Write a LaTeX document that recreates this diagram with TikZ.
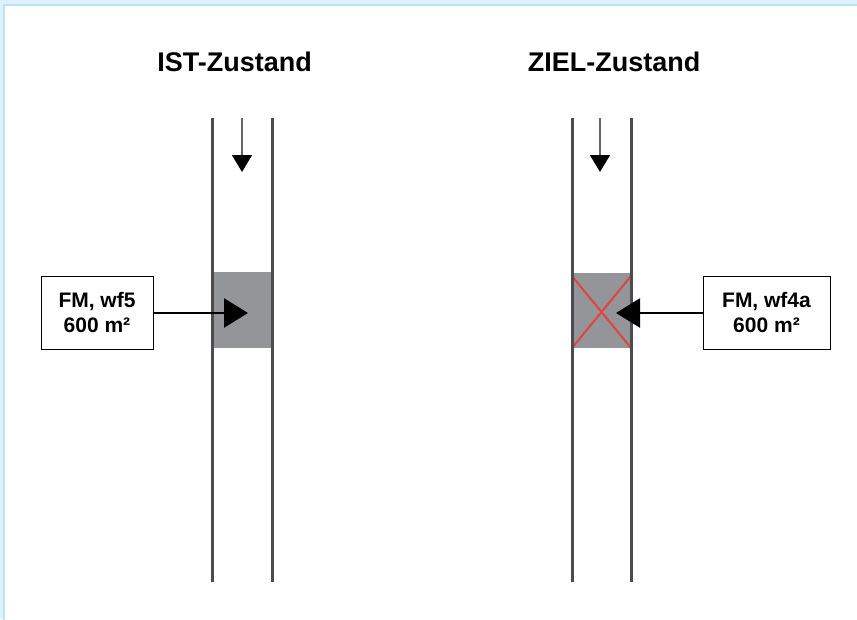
\documentclass[tikz,border=0pt]{standalone}
\usepackage{fontspec}
\setmainfont{Liberation Sans}
\usetikzlibrary{arrows.meta}
\definecolor{bgblue}{HTML}{DFF2FB}
\definecolor{edgeblue}{HTML}{B9E3F6}
\definecolor{pipegray}{HTML}{4D4B4D}
\definecolor{fillgray}{HTML}{939598}
\definecolor{xred}{HTML}{E8413C}
\begin{document}
\begin{tikzpicture}[x=1pt,y=-1pt,
  pipe/.style={draw=pipegray,line width=3pt},
  title/.style={font=\bfseries\fontsize{27}{32}\selectfont,anchor=base},
  lbl/.style={draw=black,line width=1pt,fill=white,align=center,font=\bfseries\fontsize{21}{25}\selectfont,inner sep=0pt,minimum width=112pt,minimum height=73pt},
  flow/.style={draw=gray!80!black,line width=1.5pt,-{Triangle[length=17pt,width=20pt,color=black]}},
  point/.style={draw=black,line width=2.5pt,-{Triangle[length=24pt,width=29pt]}},
  cross/.style={draw=xred,line width=2pt}]
\useasboundingbox (0,0) rectangle (857,619);
\fill[bgblue] (0,0) rectangle (857,619);
\fill[white] (5,6) rectangle (860,622);
\draw[edgeblue,line width=2pt] (4,630) -- (4,5) -- (865,5);
% titles
\node[title] (t1) at (234.5,71) {IST-Zustand};
\node[title] (t2) at (614,71) {ZIEL-Zustand};
% gray blocks
\fill[fillgray] (212,272) rectangle (272,348);
\fill[fillgray] (572,273) rectangle (631,348);
% red cross
\draw[cross] (572,276) -- (631,348);
\draw[cross] (631,276) -- (572,348);
% pipes
\draw[pipe] (212,118) -- (212,582);
\draw[pipe] (272,118) -- (272,582);
\draw[pipe] (572,118) -- (572,582);
\draw[pipe] (631,118) -- (631,582);
% flow arrows
\coordinate (f1s) at (242,118);
\coordinate (f1e) at (242,172);
\coordinate (f2s) at (600,118);
\coordinate (f2e) at (600,172);
\draw[flow] (f1s) -- (f1e);
\draw[flow] (f2s) -- (f2e);
% labels
\node[lbl] (l1) at (97,312.5) {FM, wf5\\600 m²};
\node[lbl,minimum width=127pt] (l2) at (766.5,312.5) {FM, wf4a\\600 m²};
\coordinate (p1) at (248,313);
\coordinate (p2) at (616,313);
\draw[point] (l1.east |- p1) -- (p1);
\draw[point] (l2.west |- p2) -- (p2);
\end{tikzpicture}
\end{document}
